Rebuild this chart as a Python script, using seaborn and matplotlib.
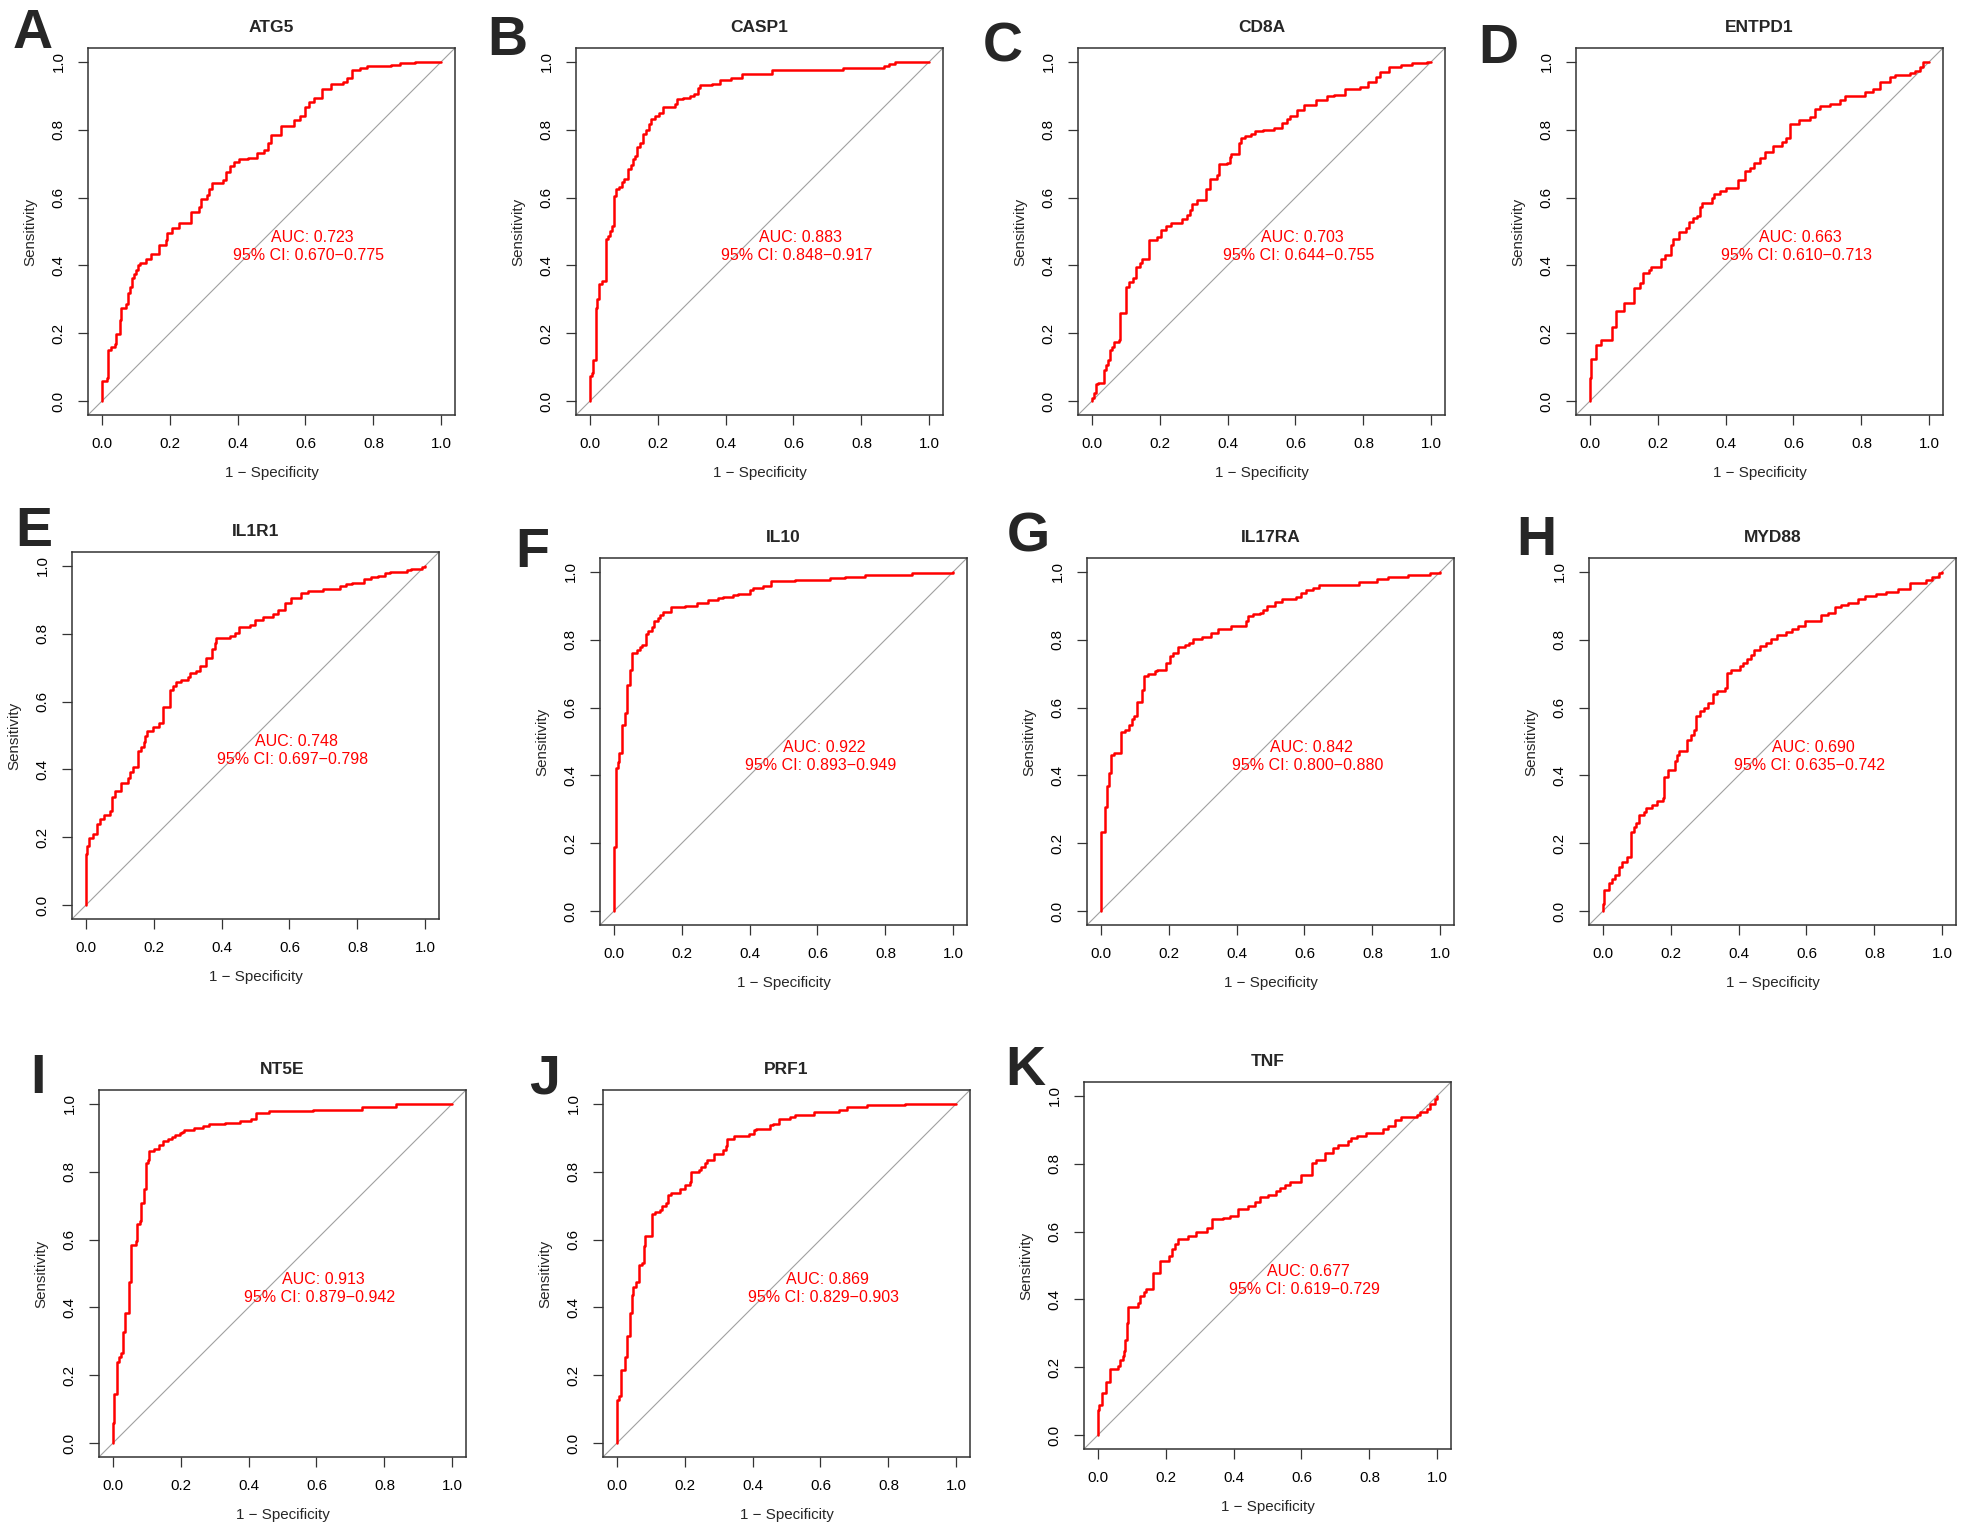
import matplotlib
matplotlib.use("Agg")
import matplotlib.pyplot as plt
import seaborn as sns
import pandas as pd

# ROC curves: (1 - specificity, sensitivity) step corners
roc_atg5 = [(0, 0), (0, .060), (.015, .068), (.019, .151), (.029, .160), (.039, .170), (.041, .197), (.053, .239),
            (.058, .276), (.072, .286), (.077, .320), (.083, .337), (.090, .362), (.095, .375), (.100, .388),
            (.107, .400), (.114, .406), (.131, .418), (.144, .435), (.168, .460), (.190, .475), (.193, .497),
            (.207, .510), (.229, .525), (.263, .558), (.288, .571), (.294, .595), (.310, .607), (.315, .624),
            (.326, .644), (.357, .651), (.367, .675), (.377, .692), (.391, .705), (.403, .712), (.430, .717),
            (.457, .730), (.479, .739), (.489, .761), (.498, .784), (.528, .811), (.565, .828), (.584, .841),
            (.599, .865), (.609, .882), (.626, .894), (.648, .918), (.675, .935), (.711, .940), (.721, .953),
            (.738, .975), (.760, .980), (.780, .986), (.853, .991), (.878, .996), (.922, 1), (1, 1)]
roc_casp1 = [(0, 0), (0, .075), (.006, .084), (.011, .122), (.018, .276), (.023, .301), (.029, .345), (.037, .354),
             (.047, .479), (.054, .486), (.060, .501), (.065, .516), (.071, .604), (.078, .624), (.086, .631),
             (.094, .646), (.101, .654), (.113, .685), (.122, .695), (.128, .712), (.135, .721), (.140, .749),
             (.147, .761), (.157, .786), (.167, .800), (.174, .816), (.181, .830), (.192, .839), (.204, .850),
             (.216, .867), (.251, .876), (.258, .889), (.275, .894), (.295, .899), (.307, .906), (.318, .921),
             (.326, .930), (.360, .935), (.385, .945), (.416, .953), (.449, .963), (.537, .975), (.747, .980),
             (.865, .986), (.880, .994), (.899, 1), (1, 1)]
roc_cd8a = [(0, 0), (.002, .009), (.007, .025), (.012, .050), (.019, .055), (.036, .092), (.043, .107), (.049, .122),
            (.054, .151), (.061, .161), (.066, .175), (.080, .180), (.085, .261), (.102, .337), (.110, .350),
            (.122, .362), (.132, .396), (.141, .406), (.147, .420), (.169, .476), (.193, .484), (.203, .504),
            (.218, .516), (.234, .525), (.267, .538), (.281, .548), (.291, .563), (.296, .580), (.311, .594),
            (.338, .624), (.348, .654), (.368, .666), (.375, .698), (.399, .702), (.407, .720), (.411, .729),
            (.433, .761), (.440, .774), (.451, .780), (.468, .788), (.482, .795), (.505, .800), (.538, .806),
            (.561, .818), (.574, .830), (.585, .841), (.603, .857), (.625, .873), (.659, .888), (.693, .898),
            (.713, .903), (.747, .918), (.791, .925), (.813, .940), (.838, .955), (.850, .969), (.875, .984),
            (.911, .989), (.943, .996), (.987, 1), (1, 1)]
roc_entpd1 = [(0, 0), (0, .070), (.005, .125), (.018, .166), (.034, .180), (.067, .220), (.078, .266), (.101, .290),
              (.130, .335), (.148, .349), (.158, .378), (.174, .388), (.181, .396), (.211, .420), (.223, .430),
              (.240, .459), (.246, .479), (.263, .498), (.285, .510), (.292, .529), (.304, .539), (.316, .547),
              (.326, .573), (.331, .584), (.360, .600), (.365, .610), (.385, .620), (.400, .629), (.436, .652),
              (.458, .679), (.473, .688), (.483, .703), (.502, .715), (.517, .735), (.540, .752), (.566, .764),
              (.579, .776), (.591, .816), (.615, .827), (.649, .837), (.664, .860), (.679, .870), (.706, .875),
              (.736, .886), (.752, .899), (.811, .911), (.835, .920), (.855, .940), (.884, .955), (.899, .960),
              (.943, .967), (.958, .973), (.973, .984), (.980, 1), (1, 1)]
roc_il1r1 = [(0, 0), (0, .150), (.005, .174), (.010, .199), (.022, .211), (.033, .240), (.041, .255), (.053, .266),
             (.071, .277), (.078, .320), (.088, .336), (.105, .360), (.125, .375), (.132, .392), (.139, .406),
             (.154, .453), (.162, .465), (.171, .480), (.176, .499), (.181, .512), (.198, .524), (.215, .538),
             (.228, .585), (.247, .635), (.257, .646), (.267, .656), (.282, .663), (.301, .672), (.306, .685),
             (.324, .690), (.336, .705), (.355, .729), (.373, .754), (.380, .773), (.385, .786), (.404, .788),
             (.424, .793), (.439, .803), (.451, .820), (.483, .826), (.498, .839), (.522, .850), (.552, .857),
             (.566, .868), (.586, .891), (.603, .906), (.633, .920), (.655, .925), (.699, .930), (.748, .940),
             (.767, .945), (.784, .950), (.818, .960), (.841, .965), (.861, .970), (.880, .977), (.897, .982),
             (.946, .986), (.959, .991), (.991, .996), (1, 1)]
roc_il10 = [(0, 0), (0, .191), (.006, .422), (.012, .441), (.017, .466), (.024, .549), (.033, .583), (.040, .667),
            (.048, .711), (.053, .760), (.070, .770), (.077, .779), (.085, .784), (.095, .817), (.102, .826),
            (.112, .836), (.119, .855), (.131, .863), (.136, .873), (.144, .880), (.168, .895), (.210, .899),
            (.244, .909), (.278, .917), (.308, .922), (.321, .926), (.352, .931), (.367, .934), (.401, .946),
            (.410, .951), (.440, .958), (.462, .971), (.533, .975), (.636, .980), (.680, .985), (.739, .990),
            (.879, .995), (1, 1)]
roc_il17ra = [(0, 0), (0, .235), (.013, .307), (.018, .368), (.025, .407), (.030, .461), (.039, .466), (.059, .527),
              (.072, .534), (.084, .549), (.091, .566), (.099, .575), (.106, .616), (.121, .652), (.127, .694),
              (.140, .699), (.160, .706), (.165, .711), (.192, .732), (.204, .752), (.214, .760), (.228, .779),
              (.248, .784), (.261, .791), (.271, .801), (.297, .807), (.326, .819), (.346, .831), (.385, .840),
              (.429, .856), (.434, .868), (.449, .875), (.469, .879), (.478, .887), (.490, .899), (.513, .910),
              (.535, .920), (.576, .926), (.591, .936), (.604, .946), (.625, .953), (.643, .962), (.761, .970),
              (.812, .977), (.846, .983), (.905, .990), (.969, .995), (1, 1)]
roc_myd88 = [(0, 0), (0, .023), (.005, .062), (.019, .085), (.029, .095), (.036, .108), (.049, .132), (.056, .144),
             (.073, .159), (.085, .235), (.092, .247), (.098, .261), (.108, .284), (.122, .294), (.129, .304),
             (.146, .314), (.161, .324), (.178, .333), (.180, .395), (.193, .416), (.213, .442), (.218, .461),
             (.225, .471), (.247, .505), (.259, .520), (.269, .534), (.276, .574), (.286, .591), (.298, .598),
             (.311, .613), (.325, .639), (.337, .650), (.360, .657), (.367, .701), (.379, .711), (.404, .721),
             (.414, .732), (.424, .742), (.438, .755), (.445, .770), (.463, .782), (.482, .791), (.497, .801),
             (.512, .814), (.539, .821), (.556, .831), (.575, .840), (.595, .856), (.644, .873), (.664, .879),
             (.683, .895), (.703, .902), (.723, .909), (.752, .919), (.772, .929), (.806, .934), (.835, .941),
             (.870, .950), (.904, .966), (.951, .975), (.968, .985), (.990, .995), (1, 1)]
roc_nt5e = [(0, 0), (0, .059), (.005, .145), (.012, .240), (.019, .253), (.024, .265), (.031, .328), (.036, .384),
            (.049, .475), (.054, .585), (.068, .596), (.073, .645), (.080, .655), (.085, .706), (.092, .750),
            (.097, .824), (.103, .835), (.108, .861), (.121, .865), (.137, .879), (.149, .889), (.163, .895),
            (.176, .902), (.183, .907), (.198, .914), (.203, .917), (.210, .922), (.240, .929), (.266, .934),
            (.284, .939), (.332, .943), (.374, .948), (.408, .956), (.423, .971), (.460, .978), (.589, .982),
            (.734, .990), (.834, .998), (1, 1)]
roc_prf1 = [(0, 0), (0, .129), (.007, .139), (.014, .216), (.026, .255), (.031, .316), (.038, .384), (.044, .436),
            (.049, .461), (.056, .475), (.066, .525), (.075, .532), (.080, .580), (.085, .610), (.105, .676),
            (.112, .681), (.129, .686), (.134, .698), (.144, .708), (.152, .732), (.161, .737), (.188, .750),
            (.200, .760), (.216, .770), (.218, .799), (.242, .804), (.247, .814), (.259, .824), (.265, .835),
            (.286, .851), (.314, .863), (.321, .875), (.325, .895), (.345, .904), (.389, .910), (.404, .922),
            (.409, .926), (.451, .936), (.461, .941), (.477, .954), (.510, .961), (.524, .966), (.580, .975),
            (.654, .982), (.678, .990), (.737, .995), (.850, 1), (1, 1)]
roc_tnf = [(0, 0), (0, .075), (.005, .090), (.012, .126), (.024, .156), (.036, .196), (.061, .203), (.066, .223),
           (.074, .234), (.078, .247), (.082, .281), (.087, .330), (.090, .377), (.120, .389), (.126, .409),
           (.136, .421), (.142, .431), (.164, .478), (.185, .512), (.211, .527), (.218, .549), (.227, .564),
           (.237, .578), (.267, .586), (.291, .598), (.321, .611), (.338, .637), (.370, .640), (.389, .647),
           (.414, .667), (.443, .676), (.463, .688), (.477, .703), (.502, .708), (.526, .718), (.536, .727),
           (.551, .737), (.566, .747), (.600, .766), (.632, .801), (.644, .811), (.669, .830), (.693, .845),
           (.708, .855), (.737, .865), (.747, .875), (.762, .881), (.791, .889), (.840, .901), (.855, .910),
           (.875, .928), (.894, .936), (.940, .943), (.948, .953), (.968, .962), (.977, .975), (.992, .989), (1, 1)]

genes = ["ATG5", "CASP1", "CD8A", "ENTPD1", "IL1R1", "IL10", "IL17RA", "MYD88", "NT5E", "PRF1", "TNF"]
panel_letters = ["A", "B", "C", "D", "E", "F", "G", "H", "I", "J", "K"]
auc = [0.723, 0.883, 0.703, 0.663, 0.748, 0.922, 0.842, 0.690, 0.913, 0.869, 0.677]
ci_low = [0.670, 0.848, 0.644, 0.610, 0.697, 0.893, 0.800, 0.635, 0.879, 0.829, 0.619]
ci_high = [0.775, 0.917, 0.755, 0.713, 0.798, 0.949, 0.880, 0.742, 0.942, 0.903, 0.729]
ticks = [0.0, 0.2, 0.4, 0.6, 0.8, 1.0]
tick_labels = ["0.0", "0.2", "0.4", "0.6", "0.8", "1.0"]

curves = [roc_atg5, roc_casp1, roc_cd8a, roc_entpd1, roc_il1r1, roc_il10,
          roc_il17ra, roc_myd88, roc_nt5e, roc_prf1, roc_tnf]

# layout in pixels: axes box (left, top) and panel letter (left, baseline)
W, H = 1965, 1534
BOX = 367
box_pos = [(88, 48), (576, 48), (1078, 48), (1576, 48),
           (72, 552), (600, 558), (1087, 558), (1589, 558),
           (99, 1090), (603, 1090), (1084, 1082)]
letter_pos = [(13, 48), (487, 55), (983, 61), (1478, 63),
              (15, 546), (515, 567), (1007, 551), (1516, 555),
              (30, 1093), (529, 1094), (1005, 1085)]

sns.set_style("white")
plt.rcParams["font.family"] = ["Liberation Sans", "DejaVu Sans"]
MINUS = "\u2212"

fig = plt.figure(figsize=(W / 100, H / 100), dpi=100)

for i, gene in enumerate(genes):
    left, top = box_pos[i]
    ax = fig.add_axes([left / W, 1 - (top + BOX) / H, BOX / W, BOX / H])

    df = pd.DataFrame(curves[i], columns=["fpr", "tpr"])
    ax.axline((0, 0), (1, 1), color="#a0a0a0", lw=0.8, zorder=1)
    sns.lineplot(data=df, x="fpr", y="tpr", ax=ax, estimator=None, sort=False,
                 drawstyle="steps-post", color="red", lw=1.8, zorder=3)

    ax.set_xlim(-0.04, 1.04)
    ax.set_ylim(-0.04, 1.04)
    ax.set_xticks(ticks, tick_labels)
    ax.set_yticks(ticks, tick_labels)
    plt.setp(ax.get_yticklabels(), rotation=90, va="center")
    ax.tick_params(axis="both", which="both", direction="out", length=7, width=0.9,
                   color="#333333", labelsize=10.9, labelcolor="black", bottom=True, left=True)
    ax.tick_params(axis="x", pad=9)
    ax.tick_params(axis="y", pad=9)
    for sp in ax.spines.values():
        sp.set_color("#333333")
        sp.set_linewidth(1.1)

    ax.set_xlabel("1 " + MINUS + " Specificity", fontsize=10.9, va="center")
    ax.set_ylabel("Sensitivity", fontsize=10.9, va="center")
    ax.xaxis.set_label_coords(0.5, -0.159)
    ax.yaxis.set_label_coords(-0.157, 0.5)

    ax.text(0.5, 1 + 20 / BOX, gene, transform=ax.transAxes, ha="center", va="center",
            fontsize=12.5, fontweight="bold")

    ax.text(0.62, 0.482, f"AUC: {auc[i]:.3f}", color="red", fontsize=11.5, ha="center", va="center")
    ax.text(0.608, 0.428, f"95% CI: {ci_low[i]:.3f}{MINUS}{ci_high[i]:.3f}", color="red",
            fontsize=11.5, ha="center", va="center")

    lx, ly = letter_pos[i]
    fig.text(lx / W, 1 - ly / H, panel_letters[i], fontsize=40, fontweight="bold",
             ha="left", va="baseline")

fig.savefig("out.png", dpi=100)
